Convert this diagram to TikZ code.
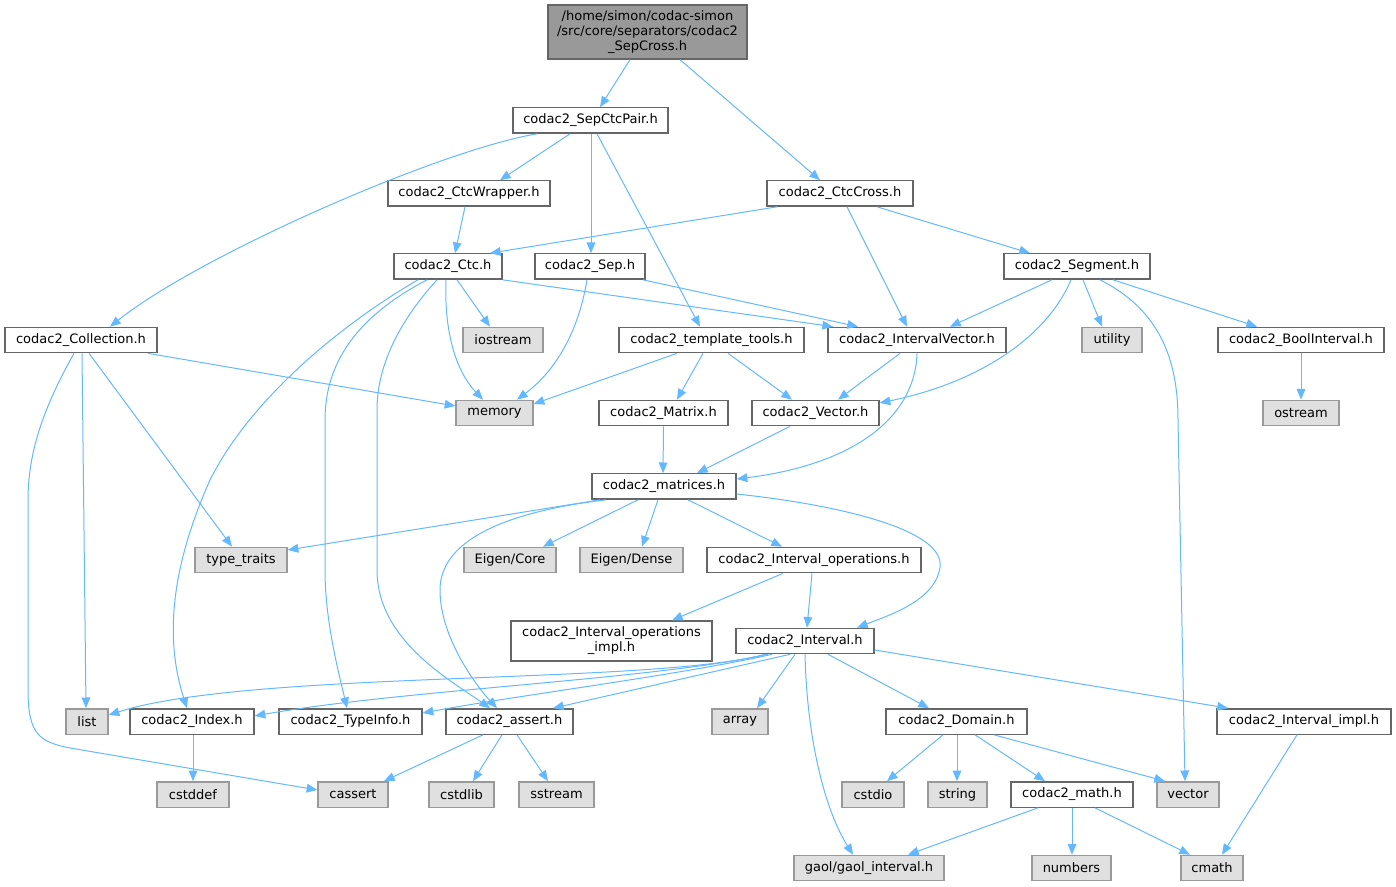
\documentclass[tikz,border=0pt]{standalone}
\usepackage{fontspec}
\setmainfont{DejaVu Sans}
\usetikzlibrary{arrows.meta}

\definecolor{edgeblue}{HTML}{63B8FF}
\definecolor{boxline}{HTML}{666666}
\definecolor{sysline}{HTML}{999999}
\definecolor{sysfill}{HTML}{E0E0E0}
\definecolor{rootfill}{HTML}{999999}

\tikzset{
  hfile/.style={draw=boxline, fill=white, line width=1pt, minimum height=19pt,
    inner sep=0pt, align=center},
  sysfile/.style={hfile, draw=sysline, fill=sysfill},
  bw/.style={minimum width=#1*0.75pt},
  bh/.style={minimum height=#1*0.75pt},
  dep/.style={edgeblue, line width=0.75pt, -{Triangle[length=8pt,width=6.5pt]}}
}

\begin{document}
\begin{tikzpicture}[x=0.75pt, y=-0.75pt, font=\fontsize{9.75}{11.3}\selectfont]
\useasboundingbox (0,0) rectangle (1396,887);

% files
\node[hfile, fill=rootfill, bw=199, bh=54] (root) at (647.5,32) {/home/simon/codac-simon\\/src/core/separators/codac2\\\_SepCross.h};
\node[hfile, bw=155] (SepCtcPair) at (590.5,120.5) {codac2\_SepCtcPair.h};
\node[hfile, bw=146] (CtcCross) at (840,193.5) {codac2\_CtcCross.h};
\node[hfile, bw=162] (CtcWrapper) at (469,193.5) {codac2\_CtcWrapper.h};
\node[hfile, bw=108] (Ctc) at (448,266.5) {codac2\_Ctc.h};
\node[hfile, bw=110] (Sep) at (590,266.5) {codac2\_Sep.h};
\node[hfile, bw=146] (Segment) at (1077,266.5) {codac2\_Segment.h};
\node[hfile, bw=152] (Collection) at (81,340) {codac2\_Collection.h};
\node[hfile, bw=185] (TemplateTools) at (711.5,340) {codac2\_template\_tools.h};
\node[hfile, bw=178] (IntervalVector) at (917,340) {codac2\_IntervalVector.h};
\node[hfile, bw=166] (BoolInterval) at (1301,340) {codac2\_BoolInterval.h};
\node[hfile, bw=129] (Matrix) at (663.5,413) {codac2\_Matrix.h};
\node[hfile, bw=127] (Vector) at (815.5,413) {codac2\_Vector.h};
\node[hfile, bw=144] (Matrices) at (664,486.5) {codac2\_matrices.h};
\node[hfile, bw=214] (IntervalOps) at (814,560) {codac2\_Interval\_operations.h};
\node[hfile, bw=201, bh=40] (IntervalOpsImpl) at (611.5,641) {codac2\_Interval\_operations\\\_impl.h};
\node[hfile, bw=138] (Interval) at (805,641) {codac2\_Interval.h};
\node[hfile, bw=124] (Index) at (192,721.5) {codac2\_Index.h};
\node[hfile, bw=143] (TypeInfo) at (350.5,721.5) {codac2\_TypeInfo.h};
\node[hfile, bw=127] (Assert) at (509.5,721.5) {codac2\_assert.h};
\node[hfile, bw=141] (Domain) at (956.5,721.5) {codac2\_Domain.h};
\node[hfile, bw=174] (IntervalImpl) at (1304,721.5) {codac2\_Interval\_impl.h};
\node[hfile, bw=122] (Math) at (1072,794.5) {codac2\_math.h};

% system headers
\node[sysfile, bw=80] (iostream) at (503,340) {iostream};
\node[sysfile, bw=60] (utility) at (1112,340) {utility};
\node[sysfile, bw=77] (memory) at (494.5,413) {memory};
\node[sysfile, bw=76] (ostream) at (1301,413) {ostream};
\node[sysfile, bw=92] (typetraits) at (241,560) {type\_traits};
\node[sysfile, bw=92] (EigenCore) at (510,560) {Eigen/Core};
\node[sysfile, bw=103] (EigenDense) at (631.5,560) {Eigen/Dense};
\node[sysfile, bw=42] (list) at (87,721.5) {list};
\node[sysfile, bw=56] (array) at (740,721.5) {array};
\node[sysfile, bw=72] (cstddef) at (193,794.5) {cstddef};
\node[sysfile, bw=70] (cassert) at (353,794.5) {cassert};
\node[sysfile, bw=65] (cstdlib) at (461.5,794.5) {cstdlib};
\node[sysfile, bw=75] (sstream) at (556.5,794.5) {sstream};
\node[sysfile, bw=62] (cstdio) at (873,794.5) {cstdio};
\node[sysfile, bw=59] (string) at (957.5,794.5) {string};
\node[sysfile, bw=62] (vector) at (1188,794.5) {vector};
\node[sysfile, bw=150] (gaol) at (869,868) {gaol/gaol\_interval.h};
\node[sysfile, bw=79] (numbers) at (1071.5,868) {numbers};
\node[sysfile, bw=62] (cmath) at (1212,868) {cmath};

% includes
\draw[dep] (root.south -| 630,0) -- (SepCtcPair.north -| 600,0);
\draw[dep] (root.south -| 680,0) -- (CtcCross.north -| 820,0);
\draw[dep] (SepCtcPair.south -| 537,0) .. controls (440,150) and (200,255) .. (Collection.north -| 110,0);
\draw[dep] (SepCtcPair.south -| 570,0) -- (CtcWrapper.north -| 500,0);
\draw[dep] (SepCtcPair.south -| 591,0) -- (Sep.north -| 591,0);
\draw[dep] (SepCtcPair.south -| 597,0) -- (TemplateTools.north -| 700,0);
\draw[dep] (CtcCross.south -| 777,0) -- (Ctc.north -| 490,0);
\draw[dep] (CtcCross.south -| 847,0) -- (IntervalVector.north -| 907,0);
\draw[dep] (CtcCross.south -| 877,0) -- (Segment.north -| 1030,0);
\draw[dep] (CtcWrapper.south -| 465,0) -- (Ctc.north -| 455,0);

\draw[dep] (Ctc.south -| 418,0) .. controls (340,325) and (250,400) .. (210,480)
  .. controls (170,570) and (165,640) .. (Index.north -| 187,0);
\draw[dep] (Ctc.south -| 427,0) .. controls (360,315) and (325,360) .. (325,420) -- (325,570)
  .. controls (325,620) and (338,670) .. (TypeInfo.north -| 347,0);
\draw[dep] (Ctc.south -| 437,0) .. controls (405,315) and (377,360) .. (377,410) -- (377,570)
  .. controls (377,640) and (450,680) .. (Assert.north -| 490,0);
\draw[dep] (Ctc.south -| 446,0) .. controls (444,330) and (455,370) .. (memory.north -| 483,0);
\draw[dep] (Ctc.south -| 457,0) -- (iostream.north -| 490,0);
\draw[dep] (Ctc.south east) -- (IntervalVector.north -| 833,0);
\draw[dep] (Sep.south -| 587,0) .. controls (577,340) and (550,375) .. (memory.north -| 517,0);
\draw[dep] (Sep.south -| 643,0) -- (IntervalVector.north -| 858,0);

\draw[dep] (Segment.south -| 1052,0) -- (IntervalVector.north -| 950,0);
\draw[dep] (Segment.south -| 1071,0) .. controls (1050,330) and (990,380) .. (Vector.east |- 0,403);
\draw[dep] (Segment.south -| 1083,0) -- (utility.north -| 1102,0);
\draw[dep] (Segment.south -| 1100,0) .. controls (1160,310) and (1178,360) .. (1178,420)
  -- (vector.north -| 1185,0);
\draw[dep] (Segment.south -| 1113,0) -- (BoolInterval.north -| 1257,0);
\draw[dep] (BoolInterval.south) -- (ostream.north);

\draw[dep] (Collection.south -| 148,0) -- (memory.west |- 0,406);
\draw[dep] (Collection.south -| 89,0) -- (typetraits.north -| 232,0);
\draw[dep] (Collection.south -| 82,0) -- (list.north -| 86,0);
\draw[dep] (Collection.south -| 74,0) .. controls (45,405) and (28,450) .. (28,500) -- (28,690)
  .. controls (28,735) and (40,742) .. (70,748) -- (cassert.west |- 0,790);

\draw[dep] (TemplateTools.south -| 677,0) -- (memory.east |- 0,404);
\draw[dep] (TemplateTools.south -| 703,0) -- (Matrix.north -| 677,0);
\draw[dep] (TemplateTools.south -| 728,0) -- (Vector.north -| 792,0);
\draw[dep] (IntervalVector.south -| 900,0) -- (Vector.north -| 838,0);
\draw[dep] (IntervalVector.south -| 917,0) .. controls (915,420) and (850,465) .. (Matrices.east |- 0,479);
\draw[dep] (Matrix.south) -- (Matrices.north -| 663,0);
\draw[dep] (Vector.south -| 790,0) -- (Matrices.north -| 697,0);

\draw[dep] (Matrices.south -| 600,0) -- (typetraits.east |- 0,550);
\draw[dep] (Matrices.south -| 606,0) .. controls (520,510) and (440,535) .. (440,590)
  .. controls (440,640) and (480,690) .. (Assert.north -| 497,0);
\draw[dep] (Matrices.south -| 638,0) -- (EigenCore.north -| 543,0);
\draw[dep] (Matrices.south -| 658,0) -- (EigenDense.north -| 642,0);
\draw[dep] (Matrices.south -| 688,0) -- (IntervalOps.north -| 782,0);
\draw[dep] (Matrices.east |- 0,494) .. controls (840,505) and (945,530) .. (940,567)
  .. controls (936,600) and (890,615) .. (Interval.north -| 857,0);
\draw[dep] (IntervalOps.south -| 783,0) -- (IntervalOpsImpl.north -| 672,0);
\draw[dep] (IntervalOps.south -| 812,0) -- (Interval.north -| 807,0);

\draw[dep] (Interval.south -| 765,0) .. controls (650,685) and (250,670) .. (list.east |- 0,715);
\draw[dep] (Interval.south -| 768,0) .. controls (650,680) and (400,690) .. (Index.east |- 0,716);
\draw[dep] (Interval.south -| 772,0) .. controls (680,675) and (520,695) .. (TypeInfo.east |- 0,713);
\draw[dep] (Interval.south -| 790,0) -- (Assert.north -| 553,0);
\draw[dep] (Interval.south -| 795,0) -- (array.north -| 757,0);
\draw[dep] (Interval.south -| 805,0) .. controls (807,740) and (825,810) .. (gaol.north -| 853,0);
\draw[dep] (Interval.south -| 828,0) -- (Domain.north -| 929,0);
\draw[dep] (Interval.east |- 0,650) -- (IntervalImpl.north -| 1228,0);

\draw[dep] (Index.south -| 193,0) -- (cstddef.north -| 193,0);
\draw[dep] (Assert.south -| 483,0) -- (cassert.north -| 384,0);
\draw[dep] (Assert.south -| 502,0) -- (cstdlib.north -| 473,0);
\draw[dep] (Assert.south -| 517,0) -- (sstream.north -| 548,0);
\draw[dep] (Domain.south -| 943,0) -- (cstdio.north -| 887,0);
\draw[dep] (Domain.south -| 957,0) -- (string.north -| 957,0);
\draw[dep] (Domain.south -| 975,0) -- (Math.north -| 1045,0);
\draw[dep] (Domain.south -| 994,0) -- (vector.north -| 1165,0);
\draw[dep] (IntervalImpl.south -| 1297,0) -- (cmath.north -| 1222,0);
\draw[dep] (Math.south -| 1038,0) -- (gaol.north -| 908,0);
\draw[dep] (Math.south -| 1072,0) -- (numbers.north -| 1072,0);
\draw[dep] (Math.south -| 1095,0) -- (cmath.north -| 1190,0);

\end{tikzpicture}
\end{document}
